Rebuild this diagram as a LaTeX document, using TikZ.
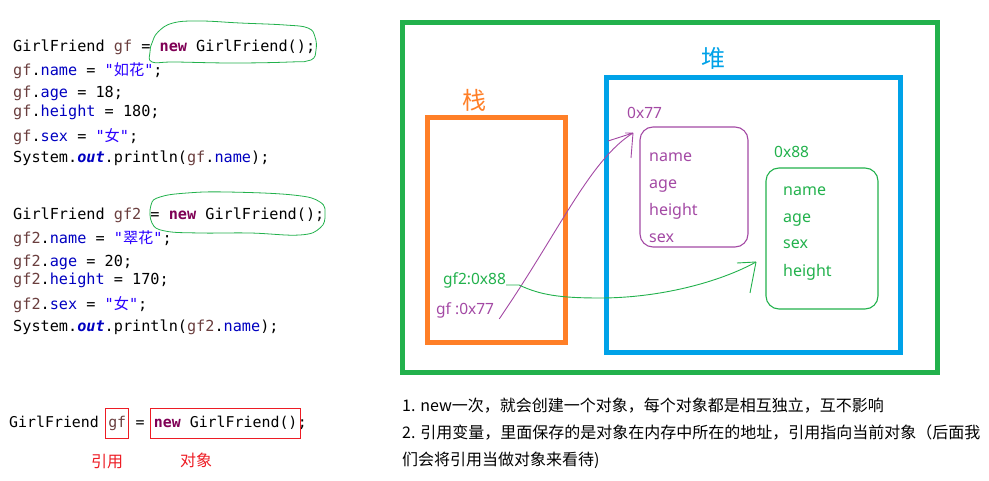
\documentclass[tikz,border=0pt]{standalone}
\usepackage{fontspec}
\setmonofont{DejaVu Sans Mono}
\newfontfamily\zhfont{Noto Sans CJK SC}
\newfontfamily\latfont{Noto Sans}
\usetikzlibrary{fit}

\definecolor{frameGreen}{HTML}{22B14C}
\definecolor{heapBlue}{HTML}{00A2E8}
\definecolor{stackOrange}{HTML}{FF7F27}
\definecolor{objPurple}{HTML}{A349A4}
\definecolor{objGreen}{HTML}{22B14C}
\definecolor{markRed}{HTML}{ED1C24}
\definecolor{kwColor}{HTML}{7F0055}
\definecolor{varColor}{HTML}{6A3E3E}
\definecolor{fldColor}{HTML}{0000C0}
\definecolor{strColor}{HTML}{2A00FF}

\newcommand{\kw}[1]{\textcolor{kwColor}{\textbf{#1}}}
\newcommand{\vr}[1]{\textcolor{varColor}{#1}}
\newcommand{\fld}[1]{\textcolor{fldColor}{#1}}
\newcommand{\jstr}[1]{\textcolor{strColor}{#1}}
\newcommand{\zh}[1]{{\zhfont #1}}

\begin{document}
\begin{tikzpicture}[x=1pt, y=-1pt,
        code_style/.style={anchor=base west, inner sep=0, font=\ttfamily\fontsize{15.2}{18}\selectfont},
        ex_style/.style={anchor=base west, inner sep=0, text height=11pt, text depth=4pt, font=\ttfamily\fontsize{14.9}{18}\selectfont},
        ring_style/.style={draw=frameGreen, line width=0.8pt},
        ref_box_style/.style={draw=markRed, line width=1.1pt, inner xsep=2.5pt, inner ysep=7pt},
        mark_label/.style={text=markRed, inner sep=0, font=\zhfont\fontsize{16}{18}\selectfont},
        region_style/.style={draw, line width=4.6pt, inner sep=0},
        region_label/.style={inner sep=0, font=\zhfont\fontsize{24}{26}\selectfont},
        obj_style/.style={draw, line width=1.1pt, rounded corners=13pt, inner sep=0},
        field_style/.style={anchor=base west, inner sep=0, font=\latfont\fontsize{16}{18}\selectfont},
        addr_style/.style={anchor=base west, inner sep=0, font=\latfont\fontsize{15.5}{18}\selectfont},
        link_style/.style={line width=0.9pt},
        note_style/.style={anchor=base west, inner sep=0, font=\zhfont\fontsize{16}{20}\selectfont}]

        \useasboundingbox (0,0) rectangle (989,481);

        \node [code_style] (gf_decl) at (13,52) {GirlFriend \vr{gf} = \kw{new} GirlFriend();};
        \node [code_style] (gf_name) at (13,76) {\vr{gf}.\fld{name} = \jstr{"\zh{如花}"};};
        \node [code_style] (gf_age) at (13,98) {\vr{gf}.\fld{age} = 18;};
        \node [code_style] (gf_height) at (13,117) {\vr{gf}.\fld{height} = 180;};
        \node [code_style] (gf_sex) at (13,142) {\vr{gf}.\fld{sex} = \jstr{"\zh{女}"};};
        \node [code_style] (gf_print) at (13,163) {System.\fld{\textbf{\textit{out}}}.println(\vr{gf}.\fld{name});};

        \node [code_style] (gf2_decl) at (13,220) {GirlFriend \vr{gf2} = \kw{new} GirlFriend();};
        \node [code_style] (gf2_name) at (13,244) {\vr{gf2}.\fld{name} = \jstr{"\zh{翠花}"};};
        \node [code_style] (gf2_age) at (13,267) {\vr{gf2}.\fld{age} = 20;};
        \node [code_style] (gf2_height) at (13,285) {\vr{gf2}.\fld{height} = 170;};
        \node [code_style] (gf2_sex) at (13,310) {\vr{gf2}.\fld{sex} = \jstr{"\zh{女}"};};
        \node [code_style] (gf2_print) at (13,332) {System.\fld{\textbf{\textit{out}}}.println(\vr{gf2}.\fld{name});};

        \draw [ring_style] plot [smooth cycle, tension=0.7] coordinates {(152,43) (158,32) (173,23) (200,21) (240,23) (285,25) (308,28) (315,37) (316,50) (311,60) (290,62) (233,63) (175,62) (152,62) (150,52)};
        \draw [ring_style] plot [smooth cycle, tension=0.7] coordinates {(151,205) (160,197) (187,193) (227,192) (293,195) (320,202) (325,215) (320,228) (300,235) (250,233) (200,233) (165,231) (152,223)};

        \node [ex_style] (ex_type) at (9,427) {GirlFriend};
        \node [ex_style, xshift=8.97pt] (ex_gf) at (ex_type.base east) {\vr{gf}};
        \node [ex_style, xshift=8.97pt] (ex_eq) at (ex_gf.base east) {=};
        \node [ex_style, xshift=8.97pt] (ex_new) at (ex_eq.base east) {\kw{new} GirlFriend()};
        \node [ex_style] (ex_semi) at (ex_new.base east) {;};
        \node [ref_box_style, fit=(ex_gf)] (ex_gf_box) {};
        \node [ref_box_style, inner xsep=3pt, fit=(ex_new)] (ex_new_box) {};
        \node [mark_label] (ref_lbl) at (107,462) {引用};
        \node [mark_label] (obj_lbl) at (196,460) {对象};

        \node [region_style, draw=frameGreen, minimum width=535, minimum height=350] (memory) at (670,197.5) {};
        \node [region_style, draw=heapBlue, minimum width=294, minimum height=275] (heap) at (753.5,215) {};
        \node [region_style, draw=stackOrange, line width=5pt, minimum width=138, minimum height=225] (stack) at (496.5,230) {};
        \node [region_label, text=heapBlue] (heap_lbl) at (713,58) {堆};
        \node [region_label, text=stackOrange] (stack_lbl) at (474,100) {栈};

        \node [obj_style, draw=objPurple, minimum width=108, minimum height=120] (obj77) at (694,187) {};
        \node [addr_style, text=objPurple] (addr77) at (627,119) {0x77};
        \node [field_style, text=objPurple] (f77_name) at (649,162) {name};
        \node [field_style, text=objPurple] (f77_age) at (649,189) {age};
        \node [field_style, text=objPurple] (f77_height) at (649,216) {height};
        \node [field_style, text=objPurple] (f77_sex) at (649,243) {sex};

        \node [obj_style, draw=objGreen, minimum width=112, minimum height=141] (obj88) at (822,238.5) {};
        \node [addr_style, text=objGreen] (addr88) at (774,158) {0x88};
        \node [field_style, text=objGreen] (f88_name) at (783,196) {name};
        \node [field_style, text=objGreen] (f88_age) at (783,223) {age};
        \node [field_style, text=objGreen] (f88_sex) at (783,249) {sex};
        \node [field_style, text=objGreen] (f88_height) at (783,277) {height};

        \node [addr_style, text=objGreen] (gf2_ref) at (443,285) {gf2:0x88};
        \node [addr_style, text=objPurple] (gf_ref) at (436,315) {gf :0x77};

        \coordinate (tip77) at (633,133);
        \coordinate (tip88) at (756,262);

        \draw [link_style, draw=objPurple] ([xshift=5pt]gf_ref.south east) .. controls (560,230) and (590,160) .. (tip77);
        \draw [link_style, draw=objPurple] (tip77) -- ++(-25,8) (tip77) -- ++(-2,25) (tip77) -- ++(-8,0);
        \draw [link_style, draw=objGreen] (gf2_ref.base east) -- ++(13,0) .. controls (540,295) and (560,298) .. (600,298) .. controls (660,298) and (720,282) .. (tip88);
        \draw [link_style, draw=objGreen] (tip88) -- ++(-19,1) (tip88) -- ++(-6,31);

        \node [note_style] (note1) at (402,411) {1. new一次，就会创建一个对象，每个对象都是相互独立，互不影响};
        \node [note_style] (note2) at (402,438) {2. 引用变量，里面保存的是对象在内存中所在的地址，引用指向当前对象（后面我};
        \node [note_style] (note3) at (402,465) {们会将引用当做对象来看待)};

\end{tikzpicture}
\end{document}
